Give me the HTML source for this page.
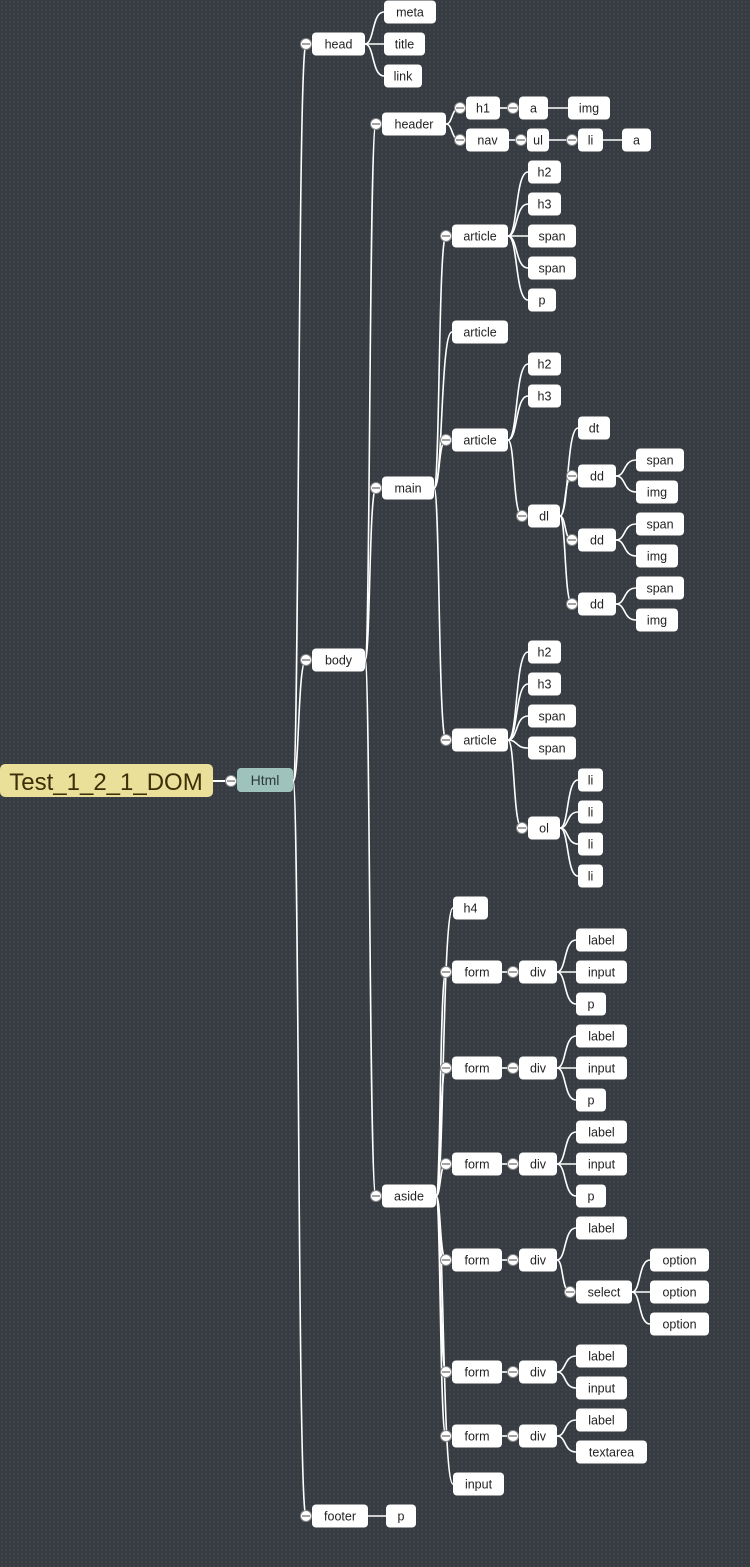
<!DOCTYPE html>
<html><head><meta charset="utf-8">
<style>
html,body{margin:0;padding:0;}
body{width:750px;height:1567px;overflow:hidden;background-color:#363c41;
background-image:radial-gradient(circle,#3f464b 0.8px,transparent 1.2px);background-size:4px 4px;
font-family:"Liberation Sans",sans-serif;}
svg{position:absolute;left:0;top:0}
</style></head><body>
<svg id="s" width="750" height="1567" xmlns="http://www.w3.org/2000/svg">
<rect x="0" y="764" width="213" height="33" rx="5" fill="#ebe09a"/>
<text x="106" y="790" font-size="24" text-anchor="middle" fill="#3d2f08" font-family="Liberation Sans, sans-serif">Test_1_2_1_DOM</text>
<line x1="213" y1="781" x2="232" y2="781" stroke="#fff" stroke-width="2"/>
<rect x="237" y="768" width="56" height="24" rx="4" fill="#9ec2bc"/>
<text x="265" y="785" font-size="14" text-anchor="middle" fill="#2e3a3a" font-family="Liberation Sans, sans-serif">Html</text>
</svg>
<script>
// [label, left, right, cy, children]
function N(t,l,r,y,c){return {t:t,l:l,r:r,y:y,c:c||[]};}
var div3=function(y){return N("div",519,557,y,[N("label",576,627,y-32),N("input",576,627,y),N("p",576,606,y+32)]);};
var tree=N("Html",237,293,781,[
 N("head",312,365,44,[N("meta",384,436,12),N("title",384,425,44),N("link",384,422,76)]),
 N("body",312,365,660,[
  N("header",382,446,124,[
    N("h1",466,500,108,[N("a",519,548,108,[N("img",568,610,108)])]),
    N("nav",466,509,140,[N("ul",527,549,140,[N("li",578,603,140,[N("a",622,651,140)])])])
  ]),
  N("main",382,434,488,[
    N("article",452,508,236,[N("h2",528,561,172),N("h3",528,561,204),N("span",528,576,236),N("span",528,576,268),N("p",528,556,300)]),
    N("article",452,508,332),
    N("article",452,508,440,[N("h2",528,561,364),N("h3",528,561,396),
      N("dl",528,560,516,[N("dt",578,610,428),
        N("dd",578,616,476,[N("span",636,684,460),N("img",636,678,492)]),
        N("dd",578,616,540,[N("span",636,684,524),N("img",636,678,556)]),
        N("dd",578,616,604,[N("span",636,684,588),N("img",636,678,620)])])]),
    N("article",452,508,740,[N("h2",528,561,652),N("h3",528,561,684),N("span",528,576,716),N("span",528,576,748),
      N("ol",528,560,828,[N("li",578,603,780),N("li",578,603,812),N("li",578,603,844),N("li",578,603,876)])])
  ]),
  N("aside",382,436,1196,[
    N("h4",453,488,908),
    N("form",452,502,972,[div3(972)]),
    N("form",452,502,1068,[div3(1068)]),
    N("form",452,502,1164,[div3(1164)]),
    N("form",452,502,1260,[N("div",519,557,1260,[N("label",576,627,1228),
       N("select",576,632,1292,[N("option",650,709,1260),N("option",650,709,1292),N("option",650,709,1324)])])]),
    N("form",452,502,1372,[N("div",519,557,1372,[N("label",576,627,1356),N("input",576,627,1388)])]),
    N("form",452,502,1436,[N("div",519,557,1436,[N("label",576,627,1420),N("textarea",576,647,1452)])]),
    N("input",453,504,1484)
  ])
 ]),
 N("footer",312,368,1516,[N("p",386,416,1516)])
]);
var ns="http://www.w3.org/2000/svg",s=document.getElementById("s");
var lines=document.createElementNS(ns,"g"),nodes=document.createElementNS(ns,"g");
s.appendChild(lines);s.appendChild(nodes);
function el(tag,a,p){var e=document.createElementNS(ns,tag);for(var k in a)e.setAttribute(k,a[k]);(p||nodes).appendChild(e);return e;}
function walk(n,isRoot){
  n.c.forEach(function(ch){
    var x1=n.r,y1=n.y,x2=ch.c.length?ch.l-6:ch.l,y2=ch.y;
    var dx=x2-x1,xm=x1+dx*0.45;
    var d=(Math.abs(y2-y1)<1)?"M"+x1+" "+y1+"L"+x2+" "+y2:
      "M"+x1+" "+y1+"C"+(x1+dx*0.5)+" "+y1+" "+(x1+dx*0.35)+" "+y2+" "+x2+" "+y2;
    el("path",{d:d,fill:"none",stroke:"#fff","stroke-width":"1.6"},lines);
    walk(ch,false);
  });
  if(!isRoot){
    el("rect",{x:n.l,y:n.y-11.5,width:n.r-n.l,height:23,rx:4,fill:"#fff"});
    var t=el("text",{x:(n.l+n.r)/2,y:n.y+4.5,"font-size":"12.5","text-anchor":"middle",fill:"#222","font-family":"Liberation Sans, sans-serif"});
    t.textContent=n.t;
    if(n.c.length){
      el("circle",{cx:n.l-6,cy:n.y,r:5.5,fill:"#fff",stroke:"#888","stroke-width":"1"});
      el("line",{x1:n.l-10,y1:n.y,x2:n.l-2,y2:n.y,stroke:"#666","stroke-width":"1.2"});
    }
  }
}
walk(tree,true);
el("circle",{cx:231,cy:781,r:5.5,fill:"#fff",stroke:"#888","stroke-width":"1"});
el("line",{x1:227,y1:781,x2:235,y2:781,stroke:"#666","stroke-width":"1.2"});
</script>
</body></html>
